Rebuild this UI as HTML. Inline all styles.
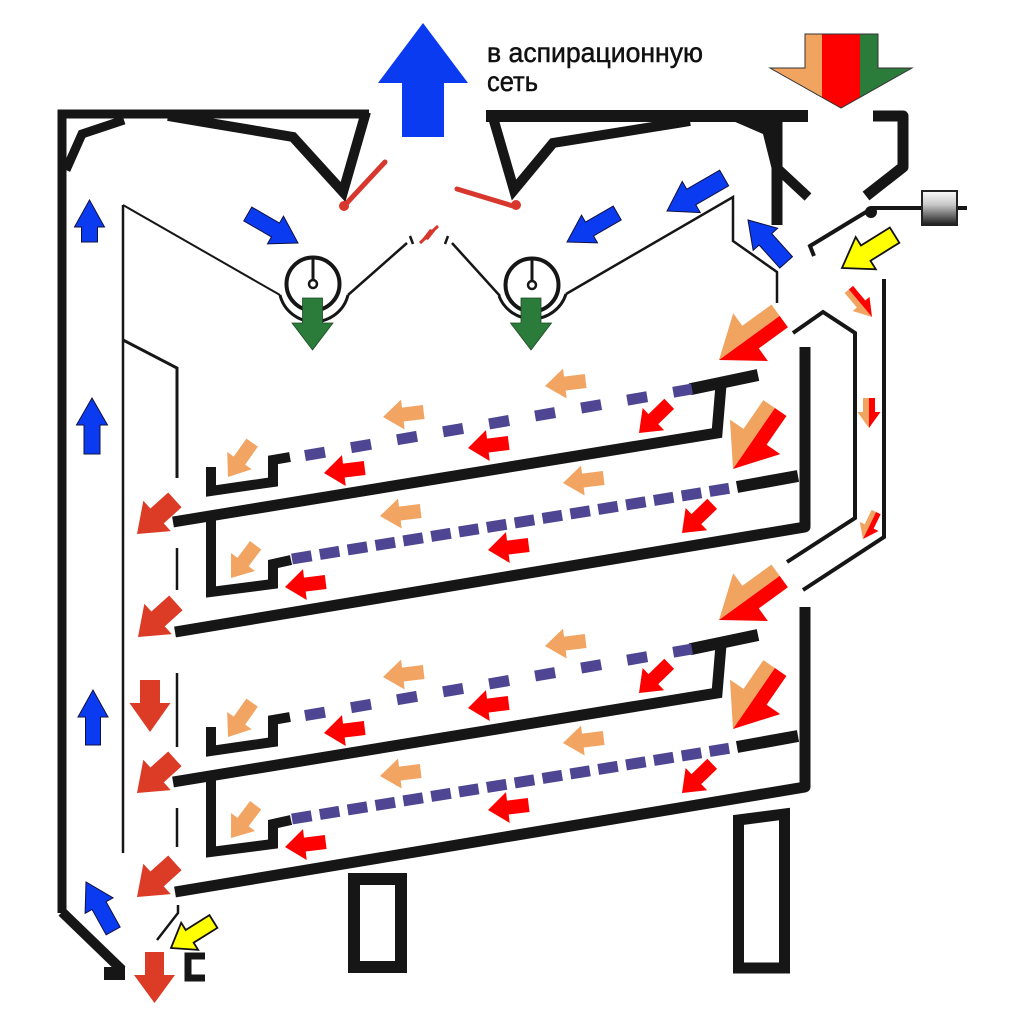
<!DOCTYPE html>
<html><head><meta charset="utf-8"><style>html,body{margin:0;padding:0;background:#fff}svg{display:block}</style></head>
<body>
<svg width="1024" height="1024" viewBox="0 0 1024 1024" xmlns="http://www.w3.org/2000/svg">
<defs>
<linearGradient id="cw" x1="0" y1="0" x2="0" y2="1">
<stop offset="0" stop-color="#fafafa"/><stop offset="0.4" stop-color="#c8c8c8"/><stop offset="1" stop-color="#1a1a1a"/>
</linearGradient>
<clipPath id="tri"><polygon points="805,34 878,34 878,68 912,68 841,108 770,68 805,68"/></clipPath>
</defs>
<rect width="1024" height="1024" fill="#fff"/>

<!-- text -->
<text x="487" y="62" font-family="Liberation Sans, Arial, sans-serif" font-size="28" fill="#111" stroke="#111" stroke-width="0.5" textLength="216" lengthAdjust="spacingAndGlyphs">в аспирационную</text>
<text x="487" y="91" font-family="Liberation Sans, Arial, sans-serif" font-size="28" fill="#111" stroke="#111" stroke-width="0.5" textLength="51" lengthAdjust="spacingAndGlyphs">сеть</text>

<!-- tricolor arrow -->
<g clip-path="url(#tri)">
<rect x="760" y="30" width="62" height="85" fill="#f0a460"/>
<rect x="822" y="30" width="38" height="85" fill="#ff0000"/>
<rect x="860" y="30" width="60" height="85" fill="#2b7b3b"/>
</g>
<polygon points="805,34 878,34 878,68 912,68 841,108 770,68 805,68" fill="none" stroke="#333" stroke-width="1"/>

<!-- big blue arrow -->
<polygon transform="translate(423,23) rotate(-90)" points="0,0 -60,-45 -60,-21 -114,-21 -114,21 -60,21 -60,45" fill="#0b3bf0"/>

<!-- frame -->
<g fill="none" stroke="#161616" stroke-linejoin="miter">
<path d="M62 913 L62 114 L369 114" stroke-width="9"/>
<path d="M366 112 L343 192 L293 137 L168 116" stroke-width="10"/>
<path d="M66 170 L82 134 L124 120" stroke-width="9"/>
<path d="M62 912 L122 970" stroke-width="10"/>
<path d="M486 116 L808 116" stroke-width="12"/>
<path d="M492 114 L514 190 L553 143 L690 121" stroke-width="10"/>
<path d="M777 116 L777 225" stroke-width="11"/>
<path d="M779 170 L808 197" stroke-width="10"/>
<path d="M873 116 L903 116 L903 167 L866 196" stroke-width="11" stroke-linejoin="round"/>
</g>
<polygon points="733,121 772,121 772,170 763,134" fill="#161616"/>
<rect x="104" y="967" width="21" height="13" fill="#161616"/>

<!-- counterweight & damper -->
<line x1="871" y1="208" x2="967" y2="208" stroke="#161616" stroke-width="4"/>
<rect x="922" y="191" width="35" height="34" fill="url(#cw)" stroke="#222" stroke-width="2"/>
<circle cx="871" cy="212" r="6" fill="#161616"/>
<path d="M871 209 L810 246 L814 256" fill="none" stroke="#161616" stroke-width="4"/>

<!-- red dampers -->
<g stroke="#d8372e" stroke-width="5" stroke-linecap="round" fill="#d8372e">
<line x1="385" y1="162" x2="345" y2="205"/>
<line x1="457" y1="189" x2="513" y2="206"/>
</g>
<circle cx="344" cy="206" r="5" fill="#d8372e"/>
<circle cx="516" cy="205" r="5" fill="#d8372e"/>
<line x1="420" y1="243" x2="438" y2="226" stroke="#d8372e" stroke-width="3"/>
<polygon points="423,238 430,229 435,231 428,240" fill="#d8372e"/>

<!-- fans and thin lines -->
<g fill="none" stroke="#161616">
<path d="M123 205 L280 295" stroke-width="2"/>
<path d="M280 295 A35 35 0 0 0 348 295" stroke-width="3"/>
<path d="M348 295 L407 243" stroke-width="2.5"/>
<path d="M410 236 L413 244 M448 236 L445 244" stroke-width="2.5"/>
<path d="M452 243 L500 296" stroke-width="2.5"/>
<path d="M499 296 A35.5 35.5 0 0 0 566 294" stroke-width="3"/>
<path d="M566 294 L733 197 L733 241 L777 272 L777 303" stroke-width="2.5"/>
<path d="M123 205 L123 853" stroke-width="2.5"/>
<path d="M123 340 L177 368 L177 478" stroke-width="3"/>
<path d="M177 548 L177 590 M177 673 L177 747 M177 808 L177 847" stroke-width="2.5"/>
<path d="M178 905 L178 913 L157 940" stroke-width="2.5"/>
<path d="M205 956 L188 956 L188 978 L205 978" stroke-width="7"/>
<path d="M884 279 L884 537 L803 590" stroke-width="4"/>
<path d="M793 333 L823 312 L855 333 L855 518 L787 562" stroke-width="4"/>
</g>
<circle cx="313" cy="284" r="26.5" fill="#fff" stroke="#161616" stroke-width="4"/>
<line x1="313" y1="259" x2="313" y2="280" stroke="#161616" stroke-width="3"/>
<circle cx="313" cy="284" r="4" fill="#fff" stroke="#161616" stroke-width="2.5"/>
<circle cx="532" cy="285" r="26.5" fill="#fff" stroke="#161616" stroke-width="4"/>
<line x1="532" y1="260" x2="532" y2="281" stroke="#161616" stroke-width="3"/>
<circle cx="532" cy="285" r="4" fill="#fff" stroke="#161616" stroke-width="2.5"/>

<!-- green arrows -->
<g fill="#2b7b3b" stroke="#1f4a25" stroke-width="0.8">
<polygon transform="translate(312.5,350) rotate(90)" points="0,0 -27,-20.5 -27,-10 -52,-10 -52,10 -27,10 -27,20.5"/>
<polygon transform="translate(531,350) rotate(90)" points="0,0 -27,-20.5 -27,-10 -52,-10 -52,10 -27,10 -27,20.5"/>
</g>

<!-- blue arrows -->
<g fill="#0b3bf0" stroke="#101040" stroke-width="1">
<polygon transform="translate(89.5,200) rotate(-90)" points="0,0 -27,-15 -27,-8 -42,-8 -42,8 -27,8 -27,15"/>
<polygon transform="translate(92,398) rotate(-90)" points="0,0 -27,-15.5 -27,-8 -56,-8 -56,8 -27,8 -27,15.5"/>
<polygon transform="translate(93,690) rotate(-90)" points="0,0 -27,-15 -27,-7.5 -55,-7.5 -55,7.5 -27,7.5 -27,15"/>
<polygon transform="translate(86,882) rotate(-119)" points="0,0 -27,-16 -27,-8 -56,-8 -56,8 -27,8 -27,16"/>
<polygon transform="translate(298,243) rotate(30)" points="0,0 -26,-16 -26,-8 -58,-8 -58,8 -26,8 -26,16"/>
<polygon transform="translate(567,242) rotate(150)" points="0,0 -26,-16 -26,-8 -58,-8 -58,8 -26,8 -26,16"/>
<polygon transform="translate(667,211) rotate(150)" points="0,0 -28,-18 -28,-9 -66,-9 -66,9 -28,9 -28,18"/>
<polygon transform="translate(748,220) rotate(-132)" points="0,0 -26,-16.5 -26,-8.5 -57,-8.5 -57,8.5 -26,8.5 -26,16.5"/>
</g>

<!-- yellow arrows -->
<g fill="#ffff00" stroke="#111" stroke-width="1.8" stroke-linejoin="miter">
<polygon transform="translate(842,268) rotate(148)" points="0,0 -28,-19 -28,-9 -62,-9 -62,9 -28,9 -28,19"/>
<polygon transform="translate(171,948) rotate(148)" points="0,0 -22,-16 -22,-7.5 -50,-7.5 -50,7.5 -22,7.5 -22,16"/>
</g>

<!-- dark red left column arrows -->
<g fill="#dc3b26">
<polygon transform="translate(137,534) rotate(138)" points="0,0 -27,-20.5 -27,-10 -51,-10 -51,10 -27,10 -27,20.5"/>
<polygon transform="translate(138,637) rotate(138)" points="0,0 -27,-20.5 -27,-10 -51,-10 -51,10 -27,10 -27,20.5"/>
<polygon transform="translate(150,732) rotate(90)" points="0,0 -29,-20.5 -29,-10 -52,-10 -52,10 -29,10 -29,20.5"/>
<polygon transform="translate(137,793) rotate(138)" points="0,0 -27,-20.5 -27,-10 -51,-10 -51,10 -27,10 -27,20.5"/>
<polygon transform="translate(137,897) rotate(138)" points="0,0 -27,-20.5 -27,-10 -51,-10 -51,10 -27,10 -27,20.5"/>
<polygon transform="translate(154.5,1003) rotate(90)" points="0,0 -28,-20.5 -28,-9.5 -51,-9.5 -51,9.5 -28,9.5 -28,20.5"/>
</g>

<!-- small bicolor arrows in right channel -->
<g transform="translate(872,317) rotate(50)"><polygon points="0,0 -17,11 -17,5.5 -36,5.5 -36,0" fill="#f0a460"/><polygon points="0,0 -36,0 -36,-5.5 -17,-5.5 -17,-11" fill="#ff0000"/></g>
<g transform="translate(869,428) rotate(90)"><polygon points="0,0 -16,11.5 -16,6 -30,6 -30,0" fill="#f0a460"/><polygon points="0,0 -30,0 -30,-6 -16,-6 -16,-11.5" fill="#ff0000"/></g>
<g transform="translate(863,539) rotate(116)"><polygon points="0,0 -14,10.5 -14,5 -30,5 -30,0" fill="#f0a460"/><polygon points="0,0 -30,0 -30,-5 -14,-5 -14,-10.5" fill="#ff0000"/></g>

<!-- legs -->
<rect x="354" y="879" width="47" height="88" fill="none" stroke="#161616" stroke-width="12"/>
<polygon points="738.5,820 784.5,814 784.5,968 738.5,968" fill="none" stroke="#161616" stroke-width="11"/>

<!-- Section A -->
<g>
<g fill="none" stroke="#161616">
<path d="M290 457 L273 460 L273 482 L211 491 L211 467" stroke-width="10"/>
<path d="M690 389.3 L758 375" stroke-width="12"/>
<path d="M721 385 L717 433 L173 522" stroke-width="11"/>
<path d="M211 518 L211 592 L273 584 L273 564 L291 560" stroke-width="10"/>
<path d="M737 487 L798 476" stroke-width="12"/>
<path d="M805 347 L805 527 L175 632" stroke-width="11" stroke-linejoin="round"/>
</g>
<path d="M305 455.6 L692 389" fill="none" stroke="#4e4693" stroke-width="11" stroke-dasharray="20.3 26.4"/>
<path d="M292 559 L737 487" fill="none" stroke="#4e4693" stroke-width="11" stroke-dasharray="19.8 8.4"/>
<g transform="translate(719,360) rotate(144)"><polygon points="0,0 -39,29.5 -39,14 -75,14 -75,0" fill="#f0a460"/><polygon points="0,0 -75,0 -75,-14 -39,-14 -39,-29.5" fill="#ff0000"/></g>
<g transform="translate(733,469) rotate(124.5)"><polygon points="0,0 -39,30.5 -39,14 -74,14 -74,0" fill="#f0a460"/><polygon points="0,0 -74,0 -74,-14 -39,-14 -39,-30.5" fill="#ff0000"/></g>
<g fill="#f2a462">
<polygon transform="translate(545,386) rotate(173)" points="0,0 -20,-15 -20,-7 -41,-7 -41,7 -20,7 -20,15"/>
<polygon transform="translate(383,417) rotate(173)" points="0,0 -20,-15 -20,-7 -41,-7 -41,7 -20,7 -20,15"/>
<polygon transform="translate(563,483) rotate(173)" points="0,0 -20,-15 -20,-7 -41,-7 -41,7 -20,7 -20,15"/>
<polygon transform="translate(380,516) rotate(173)" points="0,0 -20,-15 -20,-7 -41,-7 -41,7 -20,7 -20,15"/>
<polygon transform="translate(228,477) rotate(125)" points="0,0 -20,-15 -20,-7 -42,-7 -42,7 -20,7 -20,15"/>
<polygon transform="translate(231,578) rotate(127)" points="0,0 -20,-15 -20,-7 -41,-7 -41,7 -20,7 -20,15"/>
</g>
<g fill="#fe0000">
<polygon transform="translate(639,433) rotate(136)" points="0,0 -20,-15.5 -20,-7 -42,-7 -42,7 -20,7 -20,15.5"/>
<polygon transform="translate(468,448) rotate(173)" points="0,0 -20,-15.5 -20,-7 -41,-7 -41,7 -20,7 -20,15.5"/>
<polygon transform="translate(324,473) rotate(173)" points="0,0 -20,-15.5 -20,-7 -41,-7 -41,7 -20,7 -20,15.5"/>
<polygon transform="translate(682,533) rotate(136)" points="0,0 -20,-15.5 -20,-7 -42,-7 -42,7 -20,7 -20,15.5"/>
<polygon transform="translate(488,550) rotate(173)" points="0,0 -20,-15.5 -20,-7 -41,-7 -41,7 -20,7 -20,15.5"/>
<polygon transform="translate(285,587) rotate(173)" points="0,0 -20,-15.5 -20,-7 -41,-7 -41,7 -20,7 -20,15.5"/>
</g>
</g>

<!-- Section B: same as A shifted down 260px -->
<g transform="translate(0,260)">
<g fill="none" stroke="#161616">
<path d="M290 457 L273 460 L273 482 L211 491 L211 467" stroke-width="10"/>
<path d="M690 389.3 L758 375" stroke-width="12"/>
<path d="M721 385 L717 433 L173 522" stroke-width="11"/>
<path d="M211 518 L211 592 L273 584 L273 564 L291 560" stroke-width="10"/>
<path d="M737 487 L798 476" stroke-width="12"/>
<path d="M805 347 L805 527 L175 632" stroke-width="11" stroke-linejoin="round"/>
</g>
<path d="M305 455.6 L692 389" fill="none" stroke="#4e4693" stroke-width="11" stroke-dasharray="20.3 26.4"/>
<path d="M292 559 L737 487" fill="none" stroke="#4e4693" stroke-width="11" stroke-dasharray="19.8 8.4"/>
<g transform="translate(719,360) rotate(144)"><polygon points="0,0 -39,29.5 -39,14 -75,14 -75,0" fill="#f0a460"/><polygon points="0,0 -75,0 -75,-14 -39,-14 -39,-29.5" fill="#ff0000"/></g>
<g transform="translate(733,469) rotate(124.5)"><polygon points="0,0 -39,30.5 -39,14 -74,14 -74,0" fill="#f0a460"/><polygon points="0,0 -74,0 -74,-14 -39,-14 -39,-30.5" fill="#ff0000"/></g>
<g fill="#f2a462">
<polygon transform="translate(545,386) rotate(173)" points="0,0 -20,-15 -20,-7 -41,-7 -41,7 -20,7 -20,15"/>
<polygon transform="translate(383,417) rotate(173)" points="0,0 -20,-15 -20,-7 -41,-7 -41,7 -20,7 -20,15"/>
<polygon transform="translate(563,483) rotate(173)" points="0,0 -20,-15 -20,-7 -41,-7 -41,7 -20,7 -20,15"/>
<polygon transform="translate(380,516) rotate(173)" points="0,0 -20,-15 -20,-7 -41,-7 -41,7 -20,7 -20,15"/>
<polygon transform="translate(228,477) rotate(125)" points="0,0 -20,-15 -20,-7 -42,-7 -42,7 -20,7 -20,15"/>
<polygon transform="translate(231,578) rotate(127)" points="0,0 -20,-15 -20,-7 -41,-7 -41,7 -20,7 -20,15"/>
</g>
<g fill="#fe0000">
<polygon transform="translate(639,433) rotate(136)" points="0,0 -20,-15.5 -20,-7 -42,-7 -42,7 -20,7 -20,15.5"/>
<polygon transform="translate(468,448) rotate(173)" points="0,0 -20,-15.5 -20,-7 -41,-7 -41,7 -20,7 -20,15.5"/>
<polygon transform="translate(324,473) rotate(173)" points="0,0 -20,-15.5 -20,-7 -41,-7 -41,7 -20,7 -20,15.5"/>
<polygon transform="translate(682,533) rotate(136)" points="0,0 -20,-15.5 -20,-7 -42,-7 -42,7 -20,7 -20,15.5"/>
<polygon transform="translate(488,550) rotate(173)" points="0,0 -20,-15.5 -20,-7 -41,-7 -41,7 -20,7 -20,15.5"/>
<polygon transform="translate(285,587) rotate(173)" points="0,0 -20,-15.5 -20,-7 -41,-7 -41,7 -20,7 -20,15.5"/>
</g>
</g>
</svg>
</body></html>
